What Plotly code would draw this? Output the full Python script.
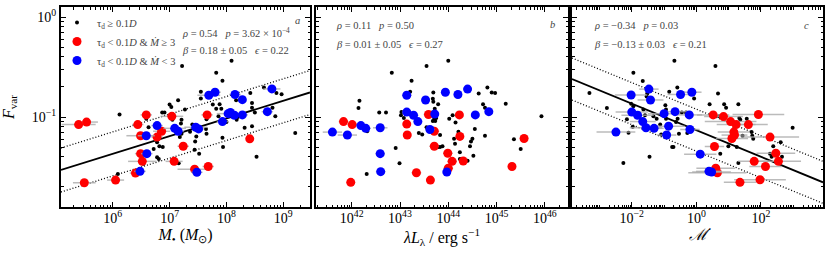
import numpy as np
import plotly.graph_objects as go

# ---------------- data ----------------
# Panel a: log10 black hole mass
a_blk_logM = [6.12, 7.22, 8.09, 7.82, 7.93, 7.55, 7.55, 7.15, 7.00, 7.03, 6.87, 6.91, 6.59, 6.63, 7.21, 7.40, 7.36,
              7.21, 6.81, 6.78, 6.82, 6.88, 6.78, 6.81, 6.72, 7.16, 7.44, 7.52, 7.45, 7.47, 7.65, 7.64, 7.76, 7.82,
              7.88, 7.91, 7.86, 7.65, 7.93, 7.94, 8.00, 8.17, 8.20, 8.18, 8.32, 8.45, 8.45, 8.45, 8.42, 8.53, 8.50,
              8.66, 8.88, 8.97, 8.81, 8.86, 9.21, 6.09, 6.54, 7.27, 7.05, 7.20, 7.18]
a_blk_F = [0.106, 0.324, 0.366, 0.277, 0.230, 0.179, 0.153, 0.147, 0.133, 0.126, 0.111, 0.111, 0.096, 0.079, 0.094,
           0.084, 0.071, 0.068, 0.068, 0.056, 0.051, 0.050, 0.0395, 0.038, 0.048, 0.0344, 0.047, 0.043, 0.057, 0.064,
           0.068, 0.076, 0.133, 0.121, 0.134, 0.121, 0.102, 0.095, 0.062, 0.050, 0.089, 0.147, 0.100, 0.094, 0.078,
           0.138, 0.124, 0.081, 0.174, 0.040, 0.111, 0.197, 0.174, 0.169, 0.124, 0.102, 0.069, 0.0269, 0.034, 0.119,
           0.094, 0.086, 0.063]
a_red_logM = [5.40, 5.54, 5.50, 6.05, 6.44, 6.59, 6.49, 6.49, 6.52, 6.40, 6.78, 6.86, 7.04, 7.24, 7.08, 7.44, 7.68, 7.66, 8.41]
a_red_F = [0.084, 0.089, 0.022, 0.0234, 0.084, 0.105, 0.065, 0.043, 0.036, 0.0275, 0.063, 0.072, 0.1016, 0.051,
           0.036, 0.030, 0.032, 0.105, 0.0605]
a_red_err = [0.3, 0.2, 0.2, 0.15, 0.1, 0.1, 0.25, 0.1, 0.25, 0.1, 0.1, 0.15, 0.2, 0.1, 0.15, 0.3, 0.1, 0.1, 0.05]
a_blu_logM = [6.59, 6.78, 6.60, 6.48, 7.09, 7.15, 7.46, 7.51, 7.48, 7.69, 7.80, 8.15, 8.28, 8.03, 8.07, 8.14, 8.28,
              7.93, 8.72, 8.80]
a_blu_F = [0.065, 0.082, 0.043, 0.0286, 0.077, 0.072, 0.079, 0.076, 0.028, 0.165, 0.177, 0.168, 0.149, 0.108, 0.111,
           0.104, 0.105, 0.090, 0.113, 0.191]
a_blu_err = [0.15, 0.1, 0.1, 0.1, 0.2, 0.1, 0.2, 0.1, 0.1, 0.2, 0.1, 0.1, 0.05, 0.2, 0.1, 0.15, 0.1, 0.1, 0.1, 0.15]

# Panel b: log10 luminosity
b_blk_logL = [42.16, 42.14, 42.32, 42.31, 42.57, 42.71, 42.83, 42.91, 42.99, 43.03, 43.02, 43.08, 43.21, 43.24,
              43.39, 43.46, 43.55, 44.00, 43.69, 43.68, 43.69, 43.79, 43.72, 43.67, 43.75, 43.71, 43.68, 43.73,
              43.55, 43.59, 43.83, 43.79, 43.88, 44.02, 44.09, 44.15, 44.21, 44.12, 44.14, 44.24, 44.24, 44.40,
              44.29, 44.47, 44.45, 44.50, 44.55, 44.52, 44.63, 44.72, 44.76, 44.76, 44.81, 44.90, 44.97, 45.19,
              45.36, 45.50, 45.93, 43.83]
b_blk_F = [0.145, 0.123, 0.072, 0.0269, 0.111, 0.111, 0.277, 0.049, 0.0344, 0.112, 0.104, 0.098, 0.179, 0.230,
           0.069, 0.067, 0.324, 0.366, 0.176, 0.152, 0.142, 0.134, 0.121, 0.111, 0.098, 0.096, 0.091, 0.091,
           0.079, 0.076, 0.066, 0.050, 0.051, 0.096, 0.104, 0.088, 0.071, 0.0605, 0.054, 0.0445, 0.038, 0.0366,
           0.038, 0.057, 0.051, 0.0605, 0.076, 0.041, 0.172, 0.134, 0.124, 0.065, 0.197, 0.176, 0.174, 0.136,
           0.060, 0.048, 0.102, 0.050]
b_red_logL = [41.83, 42.01, 41.98, 43.14, 43.15, 43.34, 43.59, 43.71, 43.71, 43.63, 43.99, 44.08, 44.00, 44.23,
              44.24, 44.31, 45.32, 45.57]
b_red_F = [0.090, 0.084, 0.0222, 0.085, 0.066, 0.0277, 0.106, 0.072, 0.051, 0.0234, 0.0434, 0.036, 0.0307, 0.105,
           0.064, 0.0363, 0.032, 0.061]
b_red_err = [0.1, 0.1, 0.05, 0.05, 0.05, 0.1, 0.1, 0.1, 0.1, 0.05, 0.1, 0.1, 0.1, 0.05, 0.05, 0.05, 0.05, 0.05]
b_blu_logL = [41.60, 41.91, 42.19, 42.29, 42.59, 42.59, 42.60, 43.14, 43.14, 43.28, 43.37, 43.53, 43.72, 43.62,
              43.94, 44.20, 44.40, 44.56, 44.84, 43.97]
b_blu_F = [0.0706, 0.066, 0.082, 0.077, 0.078, 0.043, 0.0284, 0.165, 0.112, 0.104, 0.090, 0.148, 0.107, 0.075,
           0.177, 0.168, 0.190, 0.105, 0.113, 0.0282]
b_blu_err = [0.2, 0.2, 0.1, 0.1, 0.15, 0.1, 0.1, 0.1, 0.1, 0.1, 0.05, 0.05, 0.05, 0.1, 0.05, 0.05, 0.05, 0.05,
             0.05, 0.05]

# Panel c: log10 dimensionless accretion rate
c_blk_logA = [-3.31, -2.77, -2.26, -2.10, -2.15, -2.02, -1.95, -1.97, -1.95, -1.66, -1.64, -1.59, -1.52, -1.54,
              -1.45, -1.33, -1.23, -1.12, -1.09, -0.96, -0.94, -0.94, -0.84, -0.75, -0.71, -0.68, -0.59, -0.58,
              -0.63, -0.45, -0.32, -0.54, -0.28, -0.09, -0.07, 0.41, 0.59, 0.67, 0.70, 0.74, 0.86, 0.92, 0.99,
              1.16, 1.14, 1.25, 1.30, 1.30, 1.33, 1.36, 1.43, 1.56, 1.71, 1.73, 1.76, 2.28, 2.33, 2.38, 2.61,
              2.65, 2.98]
c_blk_F = [0.174, 0.123, 0.0347, 0.0695, 0.095, 0.136, 0.128, 0.080, 0.277, 0.229, 0.119, 0.104, 0.172, 0.160,
           0.040, 0.102, 0.096, 0.084, 0.067, 0.131, 0.119, 0.096, 0.179, 0.050, 0.050, 0.366, 0.197, 0.096,
           0.089, 0.111, 0.111, 0.068, 0.069, 0.174, 0.153, 0.134, 0.324, 0.172, 0.102, 0.043, 0.134, 0.124,
           0.051, 0.076, 0.067, 0.050, 0.134, 0.0347, 0.098, 0.094, 0.065, 0.096, 0.0706, 0.065, 0.0605,
           0.043, 0.040, 0.051, 0.056, 0.040, 0.078]
c_red_logA = [0.52, 0.84, 1.06, 1.23, 1.61, 1.92, 1.16, 1.18, 1.10, 0.56, 2.28, 2.46, 2.54, 1.79, 2.14, 0.60, 0.65,
              1.35, 1.97]
c_red_F = [0.105, 0.101, 0.090, 0.084, 0.084, 0.106, 0.0706, 0.066, 0.061, 0.0507, 0.063, 0.0434, 0.036, 0.036,
           0.032, 0.0307, 0.0277, 0.0222, 0.0236]
c_red_err = [0.5, 0.6, 0.8, 0.6, 0.6, 0.8, 0.5, 0.4, 0.5, 0.3, 0.9, 0.6, 0.7, 0.5, 0.5, 0.6, 0.9, 0.5, 0.8]
c_blu_logA = [-2.49, -2.02, -2.00, -1.82, -1.66, -1.56, -1.47, -1.42, -1.31, -1.00, -0.86, -0.92, -0.66, -0.49,
              -0.22, -0.14, -0.20, 0.12, 0.39, 0.47]
c_blu_F = [0.0706, 0.166, 0.112, 0.104, 0.090, 0.078, 0.190, 0.148, 0.077, 0.108, 0.081, 0.066, 0.113, 0.168,
           0.105, 0.177, 0.075, 0.0425, 0.0286, 0.0282]
c_blu_err = [0.6, 0.5, 0.5, 0.5, 0.4, 0.5, 0.3, 0.4, 0.3, 0.5, 0.5, 0.3, 0.4, 0.4, 0.4, 0.3, 0.3, 0.5, 0.4, 0.6]

# fits: log F = intercept + slope * (log x - pivot), scatter eps
fit_a = dict(slope=0.177, intercept=-1.015, pivot=8.0, eps=0.22)
fit_c = dict(slope=-0.133, intercept=-1.132, pivot=0.0, eps=0.21)

y_err_dex = 0.03

xr_a = [5.09, 9.47]
xr_b = [41.26, 46.48]
xr_c = [-3.85, 3.92]
yr = [-1.9, 0.1]

FONT = "Liberation Serif"
RED = "#ff0000"
BLUE = "#0000ff"
EC = "rgba(170,170,170,0.8)"

fig = go.Figure()


def errs(logx, e):
    logx = np.array(logx, dtype=float); e = np.array(e, dtype=float)
    x = 10.0 ** logx
    return x, 10.0 ** (logx + e) - x, x - 10.0 ** (logx - e)


def yerrs(F):
    F = np.array(F, dtype=float)
    return 10.0 ** (np.log10(F) + y_err_dex) - F, F - 10.0 ** (np.log10(F) - y_err_dex)


def add_panel(xa, ya, blk, red, blu, legend):
    bx = 10.0 ** np.array(blk[0], dtype=float)
    fig.add_trace(go.Scatter(x=bx, y=blk[1], mode="markers", xaxis=xa, yaxis=ya,
                             marker=dict(color="black", size=4), name="τ<sub>d</sub> ≥ 0.1<i>D</i>",
                             showlegend=legend))
    for (lx, F, e), col, nm in [(red, RED, "τ<sub>d</sub> < 0.1<i>D</i> & <i>Ṁ</i> ≥ 3"),
                                (blu, BLUE, "τ<sub>d</sub> < 0.1<i>D</i> & <i>Ṁ</i> < 3")]:
        x, ep, em = errs(lx, e)
        yp, ym = yerrs(F)
        fig.add_trace(go.Scatter(x=x, y=F, mode="markers", xaxis=xa, yaxis=ya, name=nm, showlegend=legend,
                                 marker=dict(color=col, size=9),
                                 error_x=dict(type="data", symmetric=False, array=ep, arrayminus=em,
                                              color=EC, thickness=1.5, width=0),
                                 error_y=dict(type="data", symmetric=False, array=yp, arrayminus=ym,
                                              color=EC, thickness=1.5, width=0)))


def add_fit(xa, ya, xr, fit):
    lx = np.array(xr, dtype=float)
    base = fit["intercept"] + fit["slope"] * (lx - fit["pivot"])
    for off, dash in [(0, "solid"), (fit["eps"], "dot"), (-fit["eps"], "dot")]:
        fig.add_trace(go.Scatter(x=10.0 ** lx, y=10.0 ** (base + off), mode="lines", xaxis=xa, yaxis=ya,
                                 line=dict(color="black", width=1.8 if off == 0 else 1.3,
                                           dash=dash if dash == "solid" else "1px,2px"),
                                 showlegend=False, hoverinfo="skip"))


add_fit("x", "y", xr_a, fit_a)
add_fit("x3", "y3", xr_c, fit_c)
add_panel("x", "y", (a_blk_logM, a_blk_F), (a_red_logM, a_red_F, a_red_err),
          (a_blu_logM, a_blu_F, a_blu_err), True)
add_panel("x2", "y2", (b_blk_logL, b_blk_F), (b_red_logL, b_red_F, b_red_err),
          (b_blu_logL, b_blu_F, b_blu_err), False)
add_panel("x3", "y3", (c_blk_logA, c_blk_F), (c_red_logA, c_red_F, c_red_err),
          (c_blu_logA, c_blu_F, c_blu_err), False)

W, H = 831, 256
doms = [[61 / W, 310 / W], [316 / W, 568 / W], [572 / W, 823 / W]]
ydom = [1 - 207 / H, 1 - 7 / H]


def xax(dom, rng, tv, title, anchor):
    return dict(type="log", domain=dom, range=rng, anchor=anchor,
                tickvals=[10.0 ** v for v in tv],
                ticktext=["10<sup>%s</sup>" % (str(v).replace("-", "−")) for v in tv],
                ticks="inside", ticklen=5, tickwidth=1, tickcolor="black",
                minor=dict(ticks="inside", ticklen=2.5, tickcolor="black", dtick="D1", showgrid=False),
                showline=True, linewidth=2, linecolor="black", mirror="allticks",
                showgrid=False, zeroline=False, ticklabelstandoff=-3,
                tickfont=dict(size=14, family=FONT, color="black"),
                title=dict(text=title, font=dict(size=16, family=FONT, color="black"), standoff=0))


def yax(anchor, show, match=None):
    d = dict(type="log", domain=ydom, range=yr, anchor=anchor,
             tickvals=[1.0, 0.1], ticktext=["10<sup>0</sup>", "10<sup>−1</sup>"],
             ticks="inside", ticklen=5, tickwidth=1, tickcolor="black",
             minor=dict(ticks="inside", ticklen=2.5, tickcolor="black", dtick="D1", showgrid=False),
             showline=True, linewidth=2, linecolor="black", mirror="allticks",
             showgrid=False, zeroline=False, showticklabels=show,
             tickfont=dict(size=14, family=FONT, color="black"))
    if show:
        d["title"] = dict(text="<i>F</i><sub>var</sub>", font=dict(size=16, family=FONT, color="black"),
                          standoff=14)
    if match:
        d["matches"] = match
    return d


fig.update_layout(
    width=W, height=H, margin=dict(l=0, r=0, t=0, b=0),
    paper_bgcolor="white", plot_bgcolor="white",
    font=dict(family=FONT),
    xaxis=xax(doms[0], xr_a, [6, 7, 8, 9], "<i>M</i><sub>•</sub> (<i>M</i><sub>⊙</sub>)", "y"),
    xaxis2=xax(doms[1], xr_b, [42, 43, 44, 45, 46], "<i>λL</i><sub>λ</sub> / erg s<sup>−1</sup>", "y2"),
    xaxis3=xax(doms[2], xr_c, [-2, 0, 2], "<i>ℳ̇</i>", "y3"),
    yaxis=yax("x", True),
    yaxis2=yax("x2", False, "y"),
    yaxis3=yax("x3", False, "y"),
    legend=dict(x=57 / W, y=1 - 8 / H, xanchor="left", yanchor="top", bgcolor="rgba(0,0,0,0)",
                font=dict(size=10.5, family=FONT, color="#444"), tracegroupgap=0, itemwidth=30),
    showlegend=True,
)

GR = "#444"
ann = [
    (180, 32, "<i>ρ</i> = 0.54   <i>p</i> = 3.62 × 10<sup>−4</sup>", "left"),
    (180, 50, "<i>β</i> = 0.18 ± 0.05   <i>ϵ</i> = 0.22", "left"),
    (297, 20, "<i>a</i>", "center"),
    (334, 25, "<i>ρ</i> = 0.11   <i>p</i> = 0.50", "left"),
    (334, 44, "<i>β</i> = 0.01 ± 0.05   <i>ϵ</i> = 0.27", "left"),
    (552, 24, "<i>b</i>", "center"),
    (592, 25, "<i>ρ</i> = −0.34   <i>p</i> = 0.03", "left"),
    (592, 44, "<i>β</i> = −0.13 ± 0.03   <i>ϵ</i> = 0.21", "left"),
    (806, 25, "<i>c</i>", "center"),
]
for px, py, t, al in ann:
    fig.add_annotation(x=px / W, y=1 - py / H, xref="paper", yref="paper", text=t, showarrow=False,
                       xanchor=al, yanchor="middle", font=dict(size=10.5, family=FONT, color=GR))

fig.write_html("out.html", config={"displayModeBar": False},
               post_script="document.body.style.margin='0';document.body.style.overflow='hidden';")
